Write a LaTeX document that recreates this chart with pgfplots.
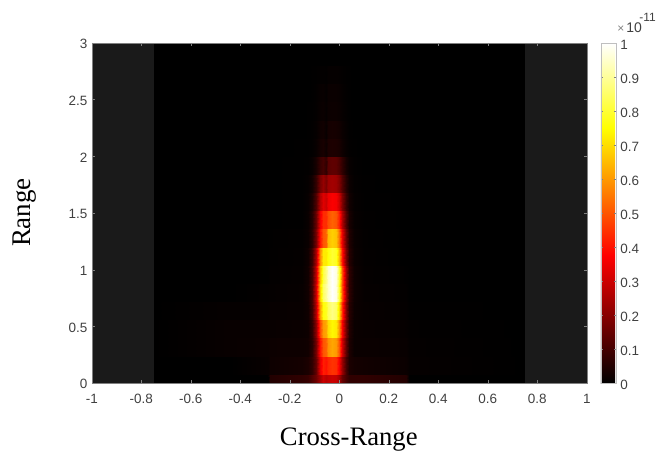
\documentclass[border=0pt]{standalone}
\usepackage{fontspec}
\setmainfont{Liberation Serif}
\newfontfamily\arial{Liberation Sans}
\usepackage{pgfplots}
\usepackage{pgfplotstable}
\pgfplotsset{compat=1.18}
\definecolor{tickc}{HTML}{404040}
\definecolor{blockc}{HTML}{1A1A1A}
\pgfplotstableread{
x b0 b1 b2 b3 b4 b5 b6 b7 b8 b9 b10 b11 b12 b13 b14 b15 b16 b17
-0.75 0 0 0 0 0 0 0 0 0 0 0 0 0 0 0 0 0 0
-0.44 0 0 .012 .012 .008 0 0 0 0 0 0 0 0 0 0 0 0 0
-0.29 0 .012 .015 .012 .008 .005 0 0 0 0 0 0 0 0 0 0 0 0
-0.28 .05 .02 .018 .012 .01 .006 .004 .003 .002 0 0 0 0 0 0 0 0 0
-0.15 .07 .03 .02 .015 .012 .01 .008 .006 .005 .002 .002 .002 .002 .001 0 0 0 0
-0.125 .08 .04 .025 .02 .023 .026 .025 .022 .015 .013 .01 .007 .003 .002 .001 .001 0 0
-0.11 .12 .07 .06 .07 .09 .10 .10 .086 .06 .053 .04 .026 .012 .004 .003 .002 .001 .001
-0.095 .16 .147 .175 .21 .266 .30 .287 .252 .175 .154 .115 .077 .035 .012 .008 .005 .004 .002
-0.08 .24 .336 .40 .48 .61 .68 .656 .576 .40 .352 .264 .176 .08 .028 .02 .012 .01 .004
-0.065 .30 .42 .50 .60 .76 .85 .82 .72 .50 .44 .33 .22 .10 .035 .025 .015 .012 .005
-0.055 .27 .40 .52 .62 .78 .90 .88 .72 .52 .44 .30 .18 .07 .02 .012 .008 .006 .003
-0.045 .285 .43 .59 .70 .84 .95 .95 .76 .65 .49 .35 .23 .13 .04 .03 .016 .014 .007
-0.03 .30 .45 .62 .74 .88 1 1 .80 .68 .52 .37 .24 .14 .042 .032 .018 .015 .008
-0.015 .29 .44 .60 .72 .85 .97 .97 .78 .66 .50 .36 .23 .136 .04 .03 .017 .014 .008
0 .24 .36 .50 .59 .70 .80 .80 .64 .54 .42 .30 .19 .11 .034 .025 .014 .012 .006
0.012 .15 .225 .31 .37 .44 .50 .50 .40 .34 .26 .185 .12 .07 .02 .015 .009 .007 .004
0.025 .10 .10 .136 .163 .19 .22 .22 .176 .15 .114 .08 .053 .03 .009 .007 .004 .003 .002
0.04 .07 .04 .043 .05 .06 .07 .07 .056 .048 .036 .026 .017 .01 .003 .002 .001 .001 .001
0.06 .07 .03 .015 .015 .018 .02 .02 .016 .014 .01 .007 .005 .003 .001 0 0 0 0
0.10 .07 .025 .015 .012 .01 .008 .006 .005 .004 .003 .002 .001 0 0 0 0 0 0
0.27 .05 .015 .012 .008 .006 .004 .002 0 0 0 0 0 0 0 0 0 0 0
0.28 0 .008 .006 .004 .002 0 0 0 0 0 0 0 0 0 0 0 0 0
0.75 0 0 0 0 0 0 0 0 0 0 0 0 0 0 0 0 0 0
}\profile
\pgfplotstablevertcat{\profiled}{\profile}
\pgfplotstablevertcat{\profiled}{\profile}
\newcommand\band[3]{\addplot[surf,shader=interp,forget plot,mesh/cols=23,mesh/ordering=x varies,point meta=\thisrow{#1}] table[x=x,y expr={\coordindex<23?#2:#3}]{\profiled};}
\begin{document}
\begin{tikzpicture}[x=1pt,y=1pt]
\path (0,0) rectangle (659,456);
\begin{axis}[
  at={(92pt,72pt)},anchor=south west,
  scale only axis,width=496pt,height=341pt,
  xmin=-1,xmax=1,ymin=0,ymax=3,
  axis background/.style={fill=black},
  axis on top,
  axis line style={draw=gray,line width=0.6pt},
  tick style={draw=gray,line width=0.5pt},
  tick align=inside,major tick length=3pt,
  xtick={-1,-0.8,-0.6,-0.4,-0.2,0,0.2,0.4,0.6,0.8,1},
  xticklabels={-1,-0.8,-0.6,-0.4,-0.2,0,0.2,0.4,0.6,0.8,1},
  ytick={0,0.5,1,1.5,2,2.5,3},
  yticklabels={0,0.5,1,1.5,2,2.5,3},
  ticklabel style={font=\arial\fontsize{13.5}{15}\selectfont,text=tickc},
  xticklabel style={yshift=-7pt},
  yticklabel style={xshift=-1pt,yshift=-1pt},
  colormap={myhot}{color(0cm)=(black); color(3.75cm)=(red); color(7.5cm)=(yellow); color(10cm)=(white)},
  point meta min=0,point meta max=1,
  colorbar,
  colorbar shift/.style={xshift=7pt},
  colorbar style={
    width=15pt,
    ytick={0,0.1,0.2,0.3,0.4,0.5,0.6,0.7,0.8,0.9,1},
    yticklabels={0,0.1,0.2,0.3,0.4,0.5,0.6,0.7,0.8,0.9,1},
    major tick length=2pt,
    tick align=inside,
    yticklabel style={font=\arial\fontsize{13.5}{15}\selectfont,text=tickc,xshift=1pt,yshift=-2pt},
    axis line style={draw=lightgray,line width=0.5pt},
  },
]
\addplot[fill=blockc,draw=none,forget plot] coordinates {(-1,0) (-0.75,0) (-0.75,3) (-1,3)} -- cycle;
\addplot[fill=blockc,draw=none,forget plot] coordinates {(0.75,0) (1,0) (1,3) (0.75,3)} -- cycle;
\band{b0}{0}{0.08}
\band{b1}{0.08}{0.24}
\band{b2}{0.24}{0.40}
\band{b3}{0.40}{0.56}
\band{b4}{0.56}{0.72}
\band{b5}{0.72}{0.88}
\band{b6}{0.88}{1.04}
\band{b7}{1.04}{1.20}
\band{b8}{1.20}{1.36}
\band{b9}{1.36}{1.52}
\band{b10}{1.52}{1.68}
\band{b11}{1.68}{1.84}
\band{b12}{1.84}{2.00}
\band{b13}{2.00}{2.16}
\band{b14}{2.16}{2.32}
\band{b15}{2.32}{2.48}
\band{b16}{2.48}{2.64}
\band{b17}{2.64}{2.80}
\end{axis}
\node[font=\fontsize{26.7}{28}\selectfont,anchor=center] at (349.5,16) {Cross-Range};
\node[font=\fontsize{27}{28}\selectfont,anchor=center,rotate=90] at (25,243) {Range};
\node[font=\arial\fontsize{12}{12}\selectfont,text=gray,anchor=base west] at (615,423) {×};
\node[font=\arial\fontsize{14}{14}\selectfont,text=tickc,anchor=base west] at (624,423) {10};
\node[font=\arial\fontsize{12}{14}\selectfont,text=tickc,anchor=base west] at (637,434) {-11};
\end{tikzpicture}
\end{document}
